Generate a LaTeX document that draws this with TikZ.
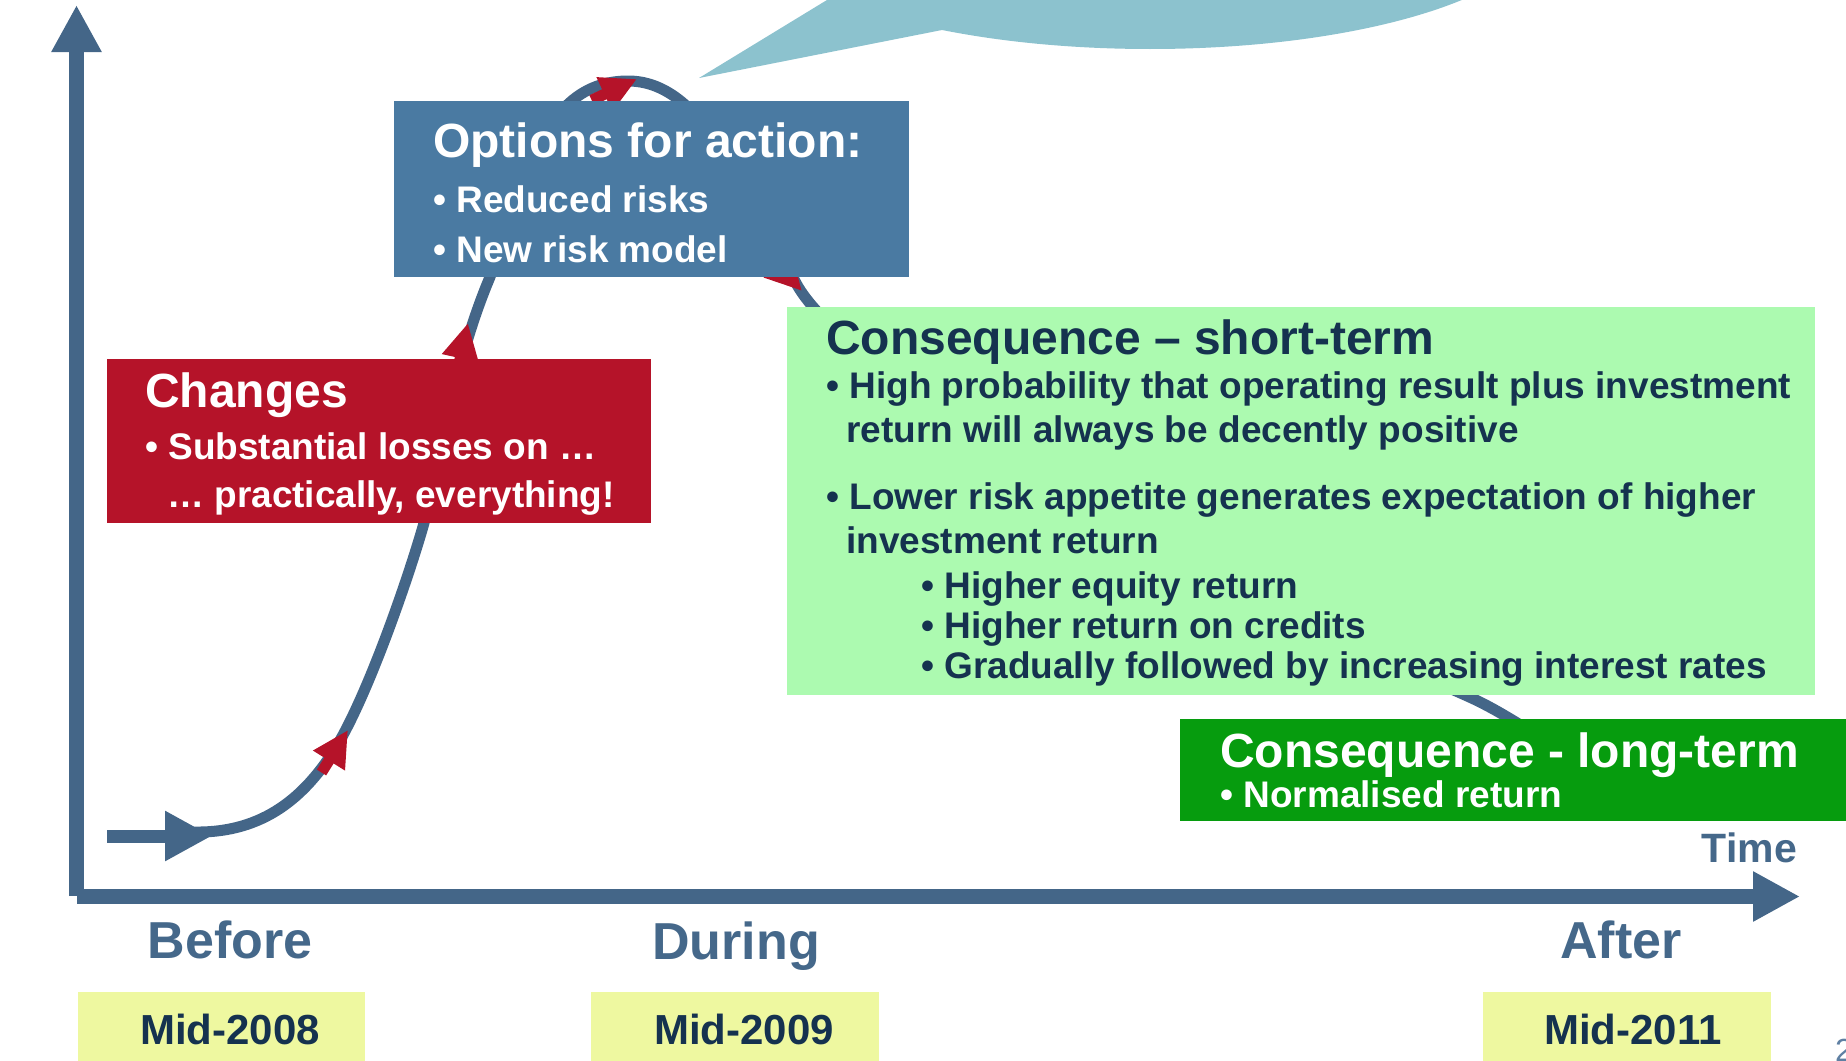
\documentclass[tikz,border=0pt]{standalone}
\usepackage{fontspec}
\setmainfont{Liberation Sans}
\usetikzlibrary{arrows.meta}
\definecolor{axisblue}{HTML}{446688}
\definecolor{labelblue}{HTML}{45688A}
\definecolor{navy}{HTML}{15324F}
\definecolor{boxblue}{HTML}{4A7AA2}
\definecolor{boxred}{HTML}{B51329}
\definecolor{lightgreen}{HTML}{ACFAB0}
\definecolor{darkgreen}{HTML}{069C0E}
\definecolor{paleyellow}{HTML}{EEF8A0}
\definecolor{bubble}{HTML}{8CC2CE}
\definecolor{pagenum}{HTML}{5F80A3}
\begin{document}
\begin{tikzpicture}[x=1pt,y=-1pt,
  box/.style={inner sep=0pt, outer sep=0pt, anchor=north west, draw=none},
  ttl/.style={inner sep=0pt, anchor=base west, font=\fontsize{48}{50}\selectfont\bfseries},
  bul/.style={inner sep=0pt, anchor=base west, font=\fontsize{37}{40}\selectfont\bfseries},
  axlabel/.style={inner sep=0pt, anchor=base, text=labelblue, font=\fontsize{52}{54}\selectfont\bfseries},
  yearlabel/.style={inner sep=0pt, anchor=base, text=navy, font=\fontsize{42}{44}\selectfont\bfseries},
  axisline/.style={draw=axisblue, line width=15.5pt, -{Triangle[length=47pt,width=47pt]}},
  curve/.style={draw=axisblue, line width=11pt, line cap=round},
  redarrow/.style={draw=boxred, line width=11pt, -{Triangle[length=36pt,width=35pt]}}
]
\useasboundingbox (0,0) rectangle (1846,1060);
\clip (0,0) rectangle (1846,1060);

% speech bubble (cut off at top)
\fill[bubble] (1150,-78) ellipse [x radius=395pt, y radius=127pt];
\fill[bubble] (699,78) -- (942,30) -- (960,-50) -- (909,-50) -- cycle;

% axes
\coordinate (origin) at (76.5,896);
\coordinate (ytip) at (76.5,5);
\coordinate (xstart) at (77,896.5);
\coordinate (xtip) at (1800,896.5);
\draw[axisline] (origin) -- (ytip);
\draw[axisline] (xstart) -- (xtip);

% entry arrow
\coordinate (entry) at (107,836);
\coordinate (entrytip) at (212,836);
\draw[draw=axisblue, line width=13pt, -{Triangle[length=47pt,width=47pt]}] (entry) -- (entrytip);

% main curve
\coordinate (cstart) at (195,832);
\coordinate (cend) at (1560,750);
\draw[curve] (cstart) .. controls (265,833) and (305,795) .. (333,752)
  .. controls (366.6,700.4) and (410,573) .. (424,523)
  .. controls (445,440) and (455,360) .. (490,277)
  .. controls (525,175) and (545,81) .. (628,81)
  .. controls (700,81) and (740,180) .. (796,283)
  .. controls (850,385) and (1250,600) .. (1465,695)
  .. controls (1490,706) and (1510,718) .. (cend);

% red arrows on the curve
\draw[redarrow] (321.5,772.5) -- (348,730);
\draw[redarrow] (457.2,371.8) -- (468,323);
\draw[redarrow] (591.7,100.2) -- (637,79);
\draw[redarrow] (768,254.5) -- (802,291);

% boxes
\node[box, fill=boxred, minimum width=544pt, minimum height=164pt] (chbox) at (107,359) {};
\node[box, fill=boxblue, minimum width=515pt, minimum height=176pt] (optbox) at (394,101) {};
\node[box, fill=lightgreen, minimum width=1028pt, minimum height=388pt] (stbox) at (787,307) {};
\node[box, fill=darkgreen, minimum width=680pt, minimum height=102pt] (ltbox) at (1180,719) {};
\node[box, fill=paleyellow, minimum width=287pt, minimum height=80pt] (y08box) at (78,992) {};
\node[box, fill=paleyellow, minimum width=288pt, minimum height=80pt] (y09box) at (591,992) {};
\node[box, fill=paleyellow, minimum width=288pt, minimum height=80pt] (y11box) at (1483,992) {};

% Changes box text
\node[ttl, text=white] (chtitle) at (145,407) {Changes};
\node[bul, text=white] (ch1) at (145,459) {• Substantial losses on …};
\node[bul, text=white] (ch2) at (167,507) {… practically, everything!};

% Options box text
\node[ttl, text=white] (opttitle) at (433,157) {Options for action:};
\node[bul, text=white] (opt1) at (433,212) {• Reduced risks};
\node[bul, text=white] (opt2) at (433,262) {• New risk model};

% Short-term box text
\node[ttl, text=navy] (sttitle) at (826,354) {Consequence – short-term};
\node[bul, text=navy] (st1) at (826,398) {• High probability that operating result plus investment};
\node[bul, text=navy] (st1b) at (846,442) {return will always be decently positive};
\node[bul, text=navy] (st2) at (826,509) {• Lower risk appetite generates expectation of higher};
\node[bul, text=navy] (st2b) at (846,553) {investment return};
\node[bul, text=navy] (st3) at (921,598) {• Higher equity return};
\node[bul, text=navy] (st4) at (921,638) {• Higher return on credits};
\node[bul, text=navy] (st5) at (921,678) {• Gradually followed by increasing interest rates};

% Long-term box text
\node[ttl, text=white] (lttitle) at (1220,767) {Consequence - long-term};
\node[bul, text=white] (lt1) at (1220,807) {• Normalised return};

% axis labels
\node[inner sep=0pt, anchor=base east, text=labelblue, font=\fontsize{41}{43}\selectfont\bfseries] (time) at (1797,862) {Time};
\node[axlabel] (before) at (230,958) {Before};
\node[axlabel] (during) at (736,959) {During};
\node[axlabel] (after) at (1621,958) {After};
\node[yearlabel] (y08) at (230,1044) {Mid-2008};
\node[yearlabel] (y09) at (744,1044) {Mid-2009};
\node[yearlabel] (y11) at (1633,1044) {Mid-2011};

% page number (cut off)
\node[inner sep=0pt, anchor=base west, text=pagenum, font=\fontsize{32}{34}\selectfont] (pnum) at (1835,1061) {2};
\end{tikzpicture}
\end{document}
